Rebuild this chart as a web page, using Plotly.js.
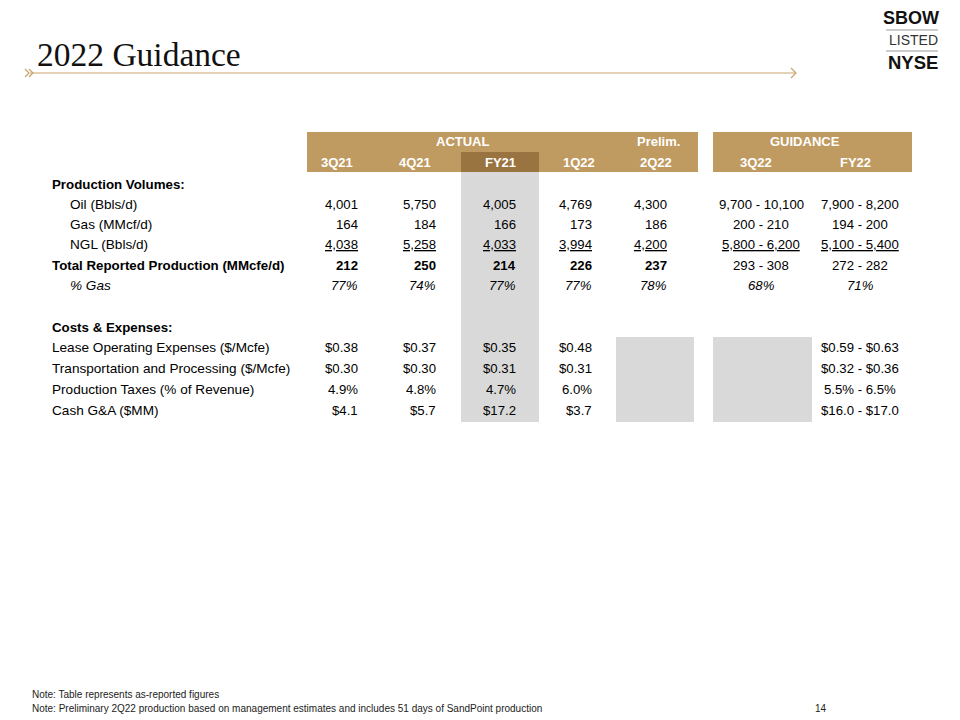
<!DOCTYPE html>
<html><head><meta charset="utf-8">
<script src="https://cdn.plot.ly/plotly-3.0.1.min.js"></script>
<style>html,body{margin:0;padding:0;background:#fff}</style>
</head><body><div id="chart" style="width:960px;height:720px"></div>
<script>
// ---------- DATA ----------
const groupHeaders = ["ACTUAL", "Prelim.", "GUIDANCE"];
const columns = ["3Q21", "4Q21", "FY21", "1Q22", "2Q22", "3Q22", "FY22"];
const rowLabels = ["Production Volumes:", "Oil (Bbls/d)", "Gas (MMcf/d)", "NGL (Bbls/d)",
  "Total Reported Production (MMcfe/d)", "% Gas", "", "Costs & Expenses:",
  "Lease Operating Expenses ($/Mcfe)", "Transportation and Processing ($/Mcfe)",
  "Production Taxes (% of Revenue)", "Cash G&A ($MM)"];
const v3Q21 = ["", "4,001", "164", "4,038", "212", "77%", "", "", "$0.38", "$0.30", "4.9%", "$4.1"];
const v4Q21 = ["", "5,750", "184", "5,258", "250", "74%", "", "", "$0.37", "$0.30", "4.8%", "$5.7"];
const vFY21 = ["", "4,005", "166", "4,033", "214", "77%", "", "", "$0.35", "$0.31", "4.7%", "$17.2"];
const v1Q22 = ["", "4,769", "173", "3,994", "226", "77%", "", "", "$0.48", "$0.31", "6.0%", "$3.7"];
const v2Q22 = ["", "4,300", "186", "4,200", "237", "78%", "", "", "", "", "", ""];
const v3Q22 = ["", "9,700 - 10,100", "200 - 210", "5,800 - 6,200", "293 - 308", "68%", "", "", "", "", "", ""];
const vFY22 = ["", "7,900 - 8,200", "194 - 200", "5,100 - 5,400", "272 - 282", "71%", "", "",
  "$0.59 - $0.63", "$0.32 - $0.36", "5.5% - 6.5%", "$16.0 - $17.0"];
const titleText = "2022 Guidance";
const notes = ["Note: Table represents as-reported figures",
  "Note: Preliminary 2Q22 production based on management estimates and includes 51 days of SandPoint production"];
const pageNumber = "14";

// ---------- LAYOUT CONFIG ----------
const values = [v3Q21, v4Q21, vFY21, v1Q22, v2Q22, v3Q22, vFY22];
const colX = [360, 438, 518, 594, 669, 761, 860];
const colAnchor = ["right", "right", "right", "right", "right", "center", "center"];
const headX = [337, 415, 500, 579, 656, 756, 855];
const groupX = [462, 658, 805];
const rowY = [184, 204, 224, 244, 265, 285, 306, 327, 347, 368, 389, 410];
const labelIndent = [50, 68, 68, 68, 50, 68, 50, 50, 50, 50, 50, 50];
const boldRows = [0, 4, 7];
const GOLD = "#BF9B62", DARK = "#9A7440", GREY = "#D9D9D9";
const FONT = "Liberation Sans, Arial, sans-serif";
const FS = 13.2, FSL = 13.6, FSH = 13;

const ann = [];
const shapes = [];

// header bands
shapes.push({type: "rect", xref: "x", yref: "y", x0: 307, x1: 698, y0: 132, y1: 172, fillcolor: GOLD, line: {width: 0}, layer: "below"});
shapes.push({type: "rect", xref: "x", yref: "y", x0: 713, x1: 912, y0: 132, y1: 172, fillcolor: GOLD, line: {width: 0}, layer: "below"});
shapes.push({type: "rect", xref: "x", yref: "y", x0: 461, x1: 539, y0: 152, y1: 172, fillcolor: DARK, line: {width: 0}, layer: "below"});
shapes.push({type: "rect", xref: "x", yref: "y", x0: 461, x1: 539, y0: 172, y1: 422, fillcolor: GREY, line: {width: 0}, layer: "below"});
shapes.push({type: "rect", xref: "x", yref: "y", x0: 616, x1: 694, y0: 337, y1: 422, fillcolor: GREY, line: {width: 0}, layer: "below"});
shapes.push({type: "rect", xref: "x", yref: "y", x0: 713, x1: 812, y0: 337, y1: 422, fillcolor: GREY, line: {width: 0}, layer: "below"});

groupHeaders.forEach((g, i) => ann.push({x: groupX[i], y: 141, xref: "x", yref: "y", text: "<b>" + g + "</b>",
  showarrow: false, xanchor: "center", yanchor: "middle", font: {family: FONT, size: FSH, color: "#ffffff"}}));
columns.forEach((c, i) => ann.push({x: headX[i], y: 162, xref: "x", yref: "y", text: "<b>" + c + "</b>",
  showarrow: false, xanchor: "center", yanchor: "middle", font: {family: FONT, size: FSH, color: "#ffffff"}}));

rowLabels.forEach((l, r) => {
  if (!l) return;
  let t = l;
  if (boldRows.includes(r)) t = "<b>" + t + "</b>";
  if (r === 5) t = "<i>" + t + "</i>";
  ann.push({x: labelIndent[r], y: rowY[r], xref: "x", yref: "y", text: t, showarrow: false,
    xanchor: "left", yanchor: "middle", font: {family: FONT, size: boldRows.includes(r) ? 13.3 : FSL, color: "#000"}});
});

values.forEach((col, c) => {
  col.forEach((v, r) => {
    if (!v) return;
    let t = v;
    if (r === 4 && c < 5) t = "<b>" + t + "</b>";
    if (r === 5) t = "<i>" + t + "</i>";
    if (r === 3) t = "<u>" + t + "</u>";
    ann.push({x: colX[c], y: rowY[r], xref: "x", yref: "y", text: t, showarrow: false,
      xanchor: colAnchor[c], yanchor: "middle", font: {family: FONT, size: FS, color: "#000"}});
  });
});

// title
ann.push({x: 35, y: 54, xref: "x", yref: "y", text: titleText, showarrow: false, xanchor: "left", yanchor: "middle",
  font: {family: "Liberation Serif, Times New Roman, serif", size: 33.5, color: "#111"}});
// title rule and chevrons
const LG = "#C9A46E";
shapes.push({type: "line", xref: "x", yref: "y", x0: 30, x1: 796, y0: 73, y1: 73, line: {color: LG, width: 1.2}});
shapes.push({type: "path", xref: "x", yref: "y", path: "M25,69 L29,73 L25,77", line: {color: LG, width: 1.2}});
shapes.push({type: "path", xref: "x", yref: "y", path: "M29,69 L33,73 L29,77", line: {color: LG, width: 1.2}});
shapes.push({type: "path", xref: "x", yref: "y", path: "M791,68 L796,73 L791,78", line: {color: LG, width: 1.2}});

// logo
ann.push({x: 911, y: 18, xref: "x", yref: "y", text: "<b>SBOW</b>", showarrow: false, xanchor: "center", yanchor: "middle",
  font: {family: "Liberation Sans, Arial, sans-serif", size: 18, color: "#111"}});
shapes.push({type: "line", xref: "x", yref: "y", x0: 886, x1: 938, y0: 30, y1: 30, line: {color: "#9a9a9a", width: 1}});
ann.push({x: 913, y: 40, xref: "x", yref: "y", text: "LISTED", showarrow: false, xanchor: "center", yanchor: "middle",
  font: {family: "Liberation Sans, Arial, sans-serif", size: 14, color: "#333"}});
shapes.push({type: "line", xref: "x", yref: "y", x0: 886, x1: 938, y0: 51, y1: 51, line: {color: "#9a9a9a", width: 1}});
ann.push({x: 913, y: 62, xref: "x", yref: "y", text: "<b>NYSE</b>", showarrow: false, xanchor: "center", yanchor: "middle",
  font: {family: "Liberation Sans, Arial, sans-serif", size: 18.5, color: "#111"}});

// notes
notes.forEach((n, i) => ann.push({x: 30, y: 694 + i * 14, xref: "x", yref: "y", text: n, showarrow: false,
  xanchor: "left", yanchor: "middle", font: {family: FONT, size: 10, color: "#222"}}));
ann.push({x: 829, y: 708, xref: "x", yref: "y", text: pageNumber, showarrow: false, xanchor: "right", yanchor: "middle",
  font: {family: FONT, size: 10, color: "#222"}});

const layout = {
  width: 960, height: 720, margin: {l: 0, r: 0, t: 0, b: 0},
  paper_bgcolor: "#fff", plot_bgcolor: "#fff", showlegend: false,
  xaxis: {range: [0, 960], visible: false, fixedrange: true},
  yaxis: {range: [720, 0], visible: false, fixedrange: true},
  annotations: ann, shapes: shapes
};
Plotly.newPlot("chart", [{x: [], y: [], type: "scatter", mode: "markers"}], layout, {displayModeBar: false, staticPlot: true});
</script></body></html>
